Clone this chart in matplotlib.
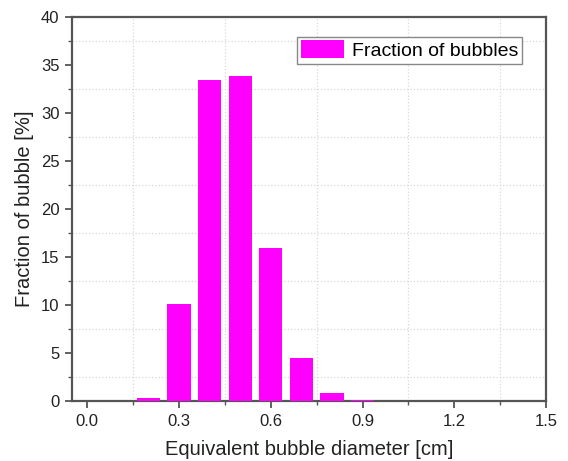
import numpy as np
import matplotlib
matplotlib.use('Agg')
import matplotlib.pyplot as plt
from matplotlib.ticker import MultipleLocator, FormatStrFormatter

plt.rcParams['font.family'] = ['Liberation Sans', 'DejaVu Sans']

# bubble size distribution
diameter = [0.2, 0.3, 0.4, 0.5, 0.6, 0.7, 0.8, 0.9]
fraction = [0.3, 10.1, 33.4, 33.9, 15.9, 4.5, 0.85, 0.1]

fig = plt.figure(figsize=(5.68, 4.61), dpi=100)
ax = fig.add_axes([72/568, 1 - 401/461, (546 - 72)/568, (401 - 17)/461])

ax.bar(diameter, fraction, width=0.076, color='#ff00ff', label='Fraction of bubbles', zorder=3)

ax.set_xlim(-0.05, 1.5)
ax.set_ylim(0, 40)
ax.xaxis.set_major_locator(MultipleLocator(0.3))
ax.xaxis.set_minor_locator(MultipleLocator(0.15))
ax.yaxis.set_major_locator(MultipleLocator(5))
ax.yaxis.set_minor_locator(MultipleLocator(2.5))
ax.xaxis.set_major_formatter(FormatStrFormatter('%.1f'))

# dotted grid only on the minor ticks
ax.grid(which='minor', color='#d8d8d8', linestyle=':', linewidth=0.9, zorder=0)
ax.grid(which='major', visible=False)

for s in ax.spines.values():
    s.set_color('#555555')
    s.set_linewidth(1.6)

ax.tick_params(which='major', direction='out', length=5, width=1.3, color='#555555',
               labelsize=12, labelcolor='#222222', pad=4)
ax.tick_params(which='minor', direction='out', length=3, width=1.0, color='#555555')

ax.set_xlabel('Equivalent bubble diameter [cm]', fontsize=14.5, color='#222222', labelpad=8)
ax.set_ylabel('Fraction of bubble [%]', fontsize=14.5, color='#222222', labelpad=5)

leg = ax.legend(loc='upper right', bbox_to_anchor=(0.949, 0.949), fontsize=14,
                fancybox=False, framealpha=1, edgecolor='#888888',
                handlelength=2.2, handleheight=1.0, borderpad=0.2, handletextpad=0.4,
                borderaxespad=0)
leg.get_frame().set_linewidth(1.0)

plt.savefig('out.png', dpi=100)
